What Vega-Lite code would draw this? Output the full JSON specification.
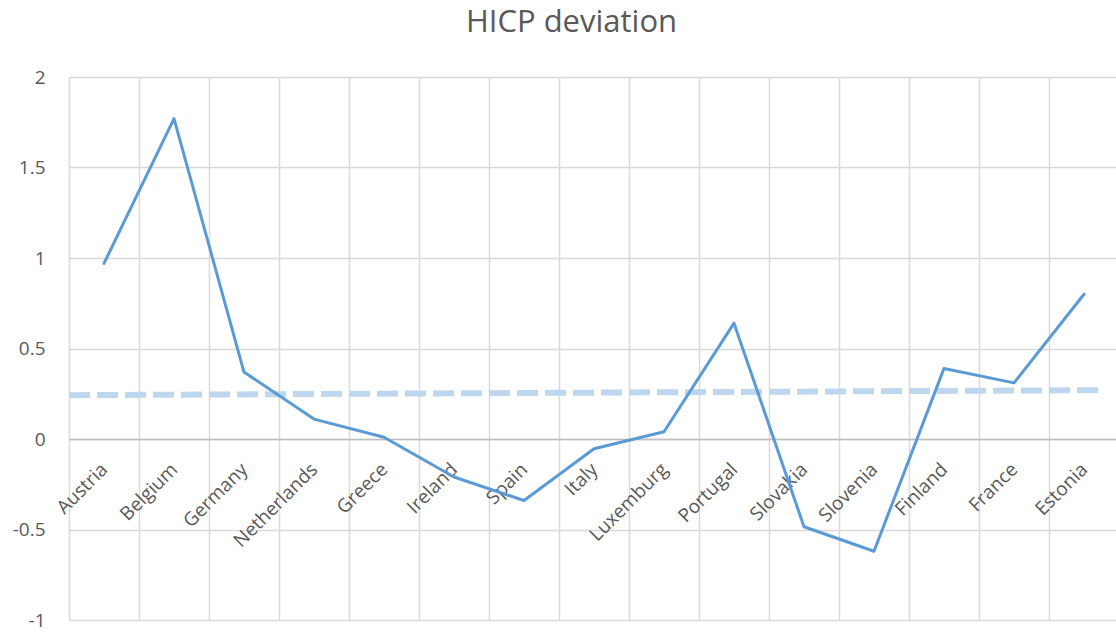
{
  "$schema": "https://vega.github.io/schema/vega-lite/v6.json",
  "width": 1047,
  "height": 543,
  "autosize": {"type": "none"},
  "padding": {"left": 69, "top": 77, "right": 0, "bottom": 14},
  "background": "white",
  "title": {
    "text": "HICP deviation",
    "font": "Open Sans",
    "fontSize": 31,
    "fontWeight": "normal",
    "color": "#595959",
    "anchor": "middle",
    "frame": "group",
    "dx": -21,
    "offset": 29
  },
  "config": {
    "view": {"stroke": null},
    "axis": {"labelFont": "Open Sans", "labelColor": "#595959"}
  },
  "layer": [
    {
      "data": {"values": [
        {"pos": 0, "deviation": 0.242},
        {"pos": 14.78, "deviation": 0.27}
      ]},
      "mark": {"type": "line", "color": "#bdd7ee", "strokeWidth": 6, "strokeDash": [21, 7], "strokeCap": "butt"},
      "encoding": {
        "x": {"field": "pos", "type": "quantitative", "scale": {"domain": [0, 15], "range": [0, 1050]}, "axis": null},
        "y": {
          "field": "deviation",
          "type": "quantitative",
          "scale": {"domain": [-1, 2], "nice": false},
          "axis": {
            "title": null,
            "values": [-1, -0.5, 0, 0.5, 1, 1.5, 2],
            "labelExpr": "'' + datum.value",
            "domain": false,
            "ticks": false,
            "grid": true,
            "gridColor": "#d9d9d9",
            "gridWidth": 1.5,
            "labelPadding": 24,
            "labelFontSize": 19
          }
        }
      }
    },
    {
      "data": {"values": [
        {"country": "Austria", "deviation": 0.97},
        {"country": "Belgium", "deviation": 1.77},
        {"country": "Germany", "deviation": 0.37},
        {"country": "Netherlands", "deviation": 0.11},
        {"country": "Greece", "deviation": 0.01},
        {"country": "Ireland", "deviation": -0.21},
        {"country": "Spain", "deviation": -0.34},
        {"country": "Italy", "deviation": -0.054},
        {"country": "Luxemburg", "deviation": 0.04},
        {"country": "Portugal", "deviation": 0.64},
        {"country": "Slovakia", "deviation": -0.485},
        {"country": "Slovenia", "deviation": -0.62},
        {"country": "Finland", "deviation": 0.39},
        {"country": "France", "deviation": 0.31},
        {"country": "Estonia", "deviation": 0.80}
      ]},
      "mark": {"type": "line", "color": "#5b9bd5", "strokeWidth": 3, "strokeCap": "round", "strokeJoin": "round"},
      "encoding": {
        "x": {
          "field": "country",
          "type": "nominal",
          "sort": null,
          "bandPosition": 0.5,
          "scale": {"type": "band", "paddingInner": 0, "paddingOuter": 0, "range": [0, 1050]},
          "axis": {
            "title": null,
            "offset": -181,
            "tickBand": "extent",
            "ticks": false,
            "grid": true,
            "gridColor": "#d9d9d9",
            "gridWidth": 1.5,
            "domainColor": "#bfbfbf",
            "domainWidth": 1.5,
            "labelAngle": -45,
            "labelAlign": "right",
            "labelBaseline": "middle",
            "labelPadding": 27,
            "labelFontSize": 19
          }
        },
        "y": {
          "field": "deviation",
          "type": "quantitative",
          "scale": {"domain": [-1, 2], "nice": false}
        }
      }
    }
  ],
  "resolve": {"scale": {"x": "independent"}}
}
